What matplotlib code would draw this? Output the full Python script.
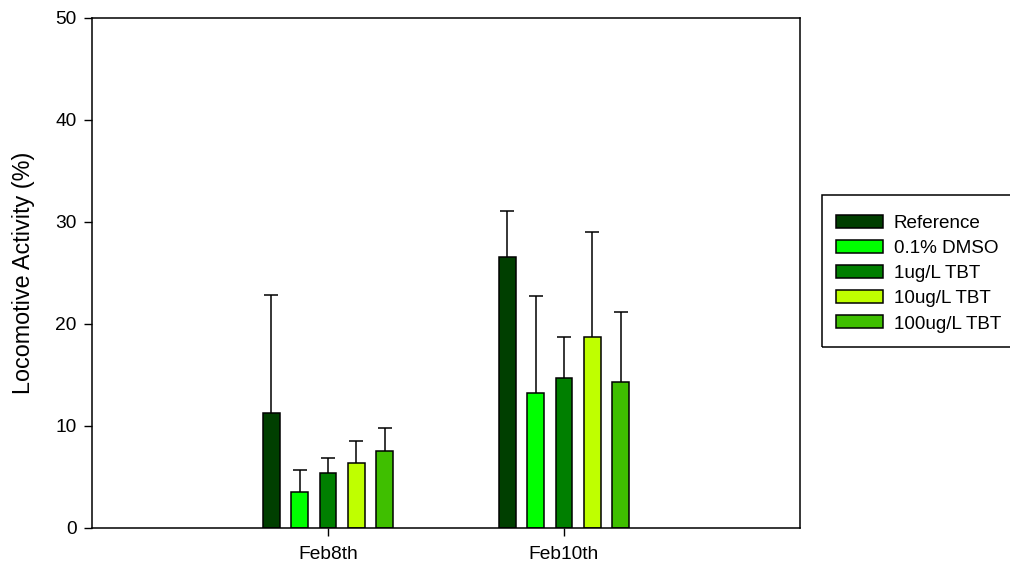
import matplotlib
matplotlib.use("Agg")
import matplotlib.pyplot as plt
from matplotlib.patches import Rectangle
import numpy as np

plt.rcParams['font.family'] = ['Liberation Sans', 'DejaVu Sans']

categories = ["Feb8th", "Feb10th"]
groups = ["Reference", "0.1% DMSO", "1ug/L TBT", "10ug/L TBT", "100ug/L TBT"]
colors = ["#003F00", "#00FF00", "#007F00", "#BFFF00", "#3FBF00"]

means = {
    "Reference":   [11.25, 26.6],
    "0.1% DMSO":   [3.53, 13.27],
    "1ug/L TBT":   [5.39, 14.74],
    "10ug/L TBT":  [6.40, 18.76],
    "100ug/L TBT": [7.58, 14.35],
}
errors = {
    "Reference":   [11.59, 4.5],
    "0.1% DMSO":   [2.16, 9.48],
    "1ug/L TBT":   [1.44, 4.02],
    "10ug/L TBT":  [2.10, 10.23],
    "100ug/L TBT": [2.25, 6.83],
}

W, H = 1010, 570
fig = plt.figure(figsize=(W / 100, H / 100), dpi=100)
ax = fig.add_axes([92 / W, 42 / H, 708 / W, 510 / H])

x = np.arange(1, len(categories) + 1)
width = 0.072
pitch = 0.12
offsets = (np.arange(len(groups)) - 2) * pitch

for i, g in enumerate(groups):
    ax.bar(x + offsets[i], means[g], width, color=colors[i], edgecolor="black",
           linewidth=1.1, label=g, zorder=2)
    _, caps, _ = ax.errorbar(x + offsets[i], means[g],
                             yerr=[np.zeros(len(categories)), errors[g]],
                             fmt="none", ecolor="black", elinewidth=1.1,
                             capsize=5, capthick=1.1, zorder=1)
    # one-sided bars: hide the cap at the bottom end
    caps[0].set_visible(False)

ax.set_xlim(0, 3)
ax.set_ylim(0, 50)
ax.set_yticks([0, 10, 20, 30, 40, 50])
ax.set_xticks(x)
ax.set_xticklabels(categories)
ax.tick_params(direction="out", length=6, width=1, labelsize=13.8, colors="black")
ax.tick_params(axis="y", pad=5)
ax.tick_params(axis="x", pad=7)
ax.set_ylabel("Locomotive Activity (%)", fontsize=16.8)
ax.yaxis.set_label_coords(-0.08, 0.5)
for s in ax.spines.values():
    s.set_linewidth(1.1)

# legend entries without their own frame; the box is drawn separately
fs = 13.6
leg = fig.legend(loc="upper left", bbox_to_anchor=(836 / W, 1 - 215 / H),
                 frameon=False, fontsize=fs,
                 handlelength=2.49, handleheight=0.69, handletextpad=0.58,
                 labelspacing=0.42, borderpad=0, borderaxespad=0)
for p in leg.get_patches():
    p.set_linewidth(1.1)

box = Rectangle((822 / W, 1 - 347 / H), 200 / W, 152 / H,
                transform=fig.transFigure, fill=False, edgecolor="black",
                linewidth=1.1, clip_on=False)
fig.add_artist(box)

fig.savefig("out.png", dpi=100)
